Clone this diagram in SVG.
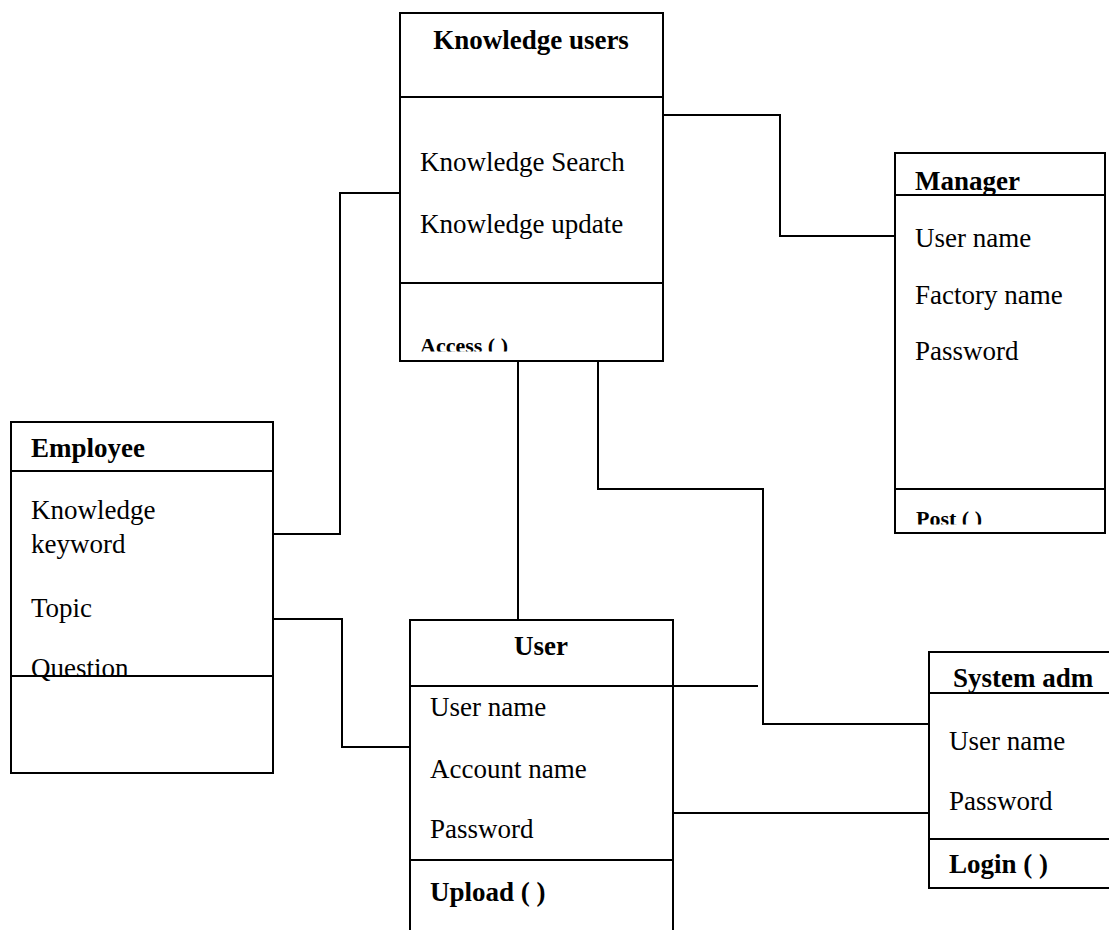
<svg xmlns="http://www.w3.org/2000/svg" width="1109" height="930" viewBox="0 0 1109 930">
  <style>
    .box { fill: #fff; stroke: #000; stroke-width: 2; }
    .ln { fill: none; stroke: #000; stroke-width: 2; }
    .t { font-family: "Liberation Serif", "Times New Roman", serif; font-size: 27px; fill: #000; }
    .b { font-weight: bold; }
    .op { font-family: "Liberation Serif", "Times New Roman", serif; font-size: 22px; font-weight: bold; fill: #000; }
    .mid { text-anchor: middle; }
  </style>
  <defs>
    <clipPath id="clipAccess"><rect x="400" y="300" width="263" height="51.5"/></clipPath>
    <clipPath id="clipPost"><rect x="895" y="490" width="210" height="34.5"/></clipPath>
  </defs>
  <rect width="1109" height="930" fill="#fff"/>

  <!-- connectors -->
  <g id="connectors">
    <polyline class="ln" points="400,193 340,193 340,534 273,534"/>
    <polyline class="ln" points="663,115 780,115 780,236 895,236"/>
    <line class="ln" x1="518" y1="361" x2="518" y2="620"/>
    <polyline class="ln" points="598,361 598,489 763,489 763,724 929,724"/>
    <polyline class="ln" points="273,619 342,619 342,747 410,747"/>
    <line class="ln" x1="673" y1="813" x2="929" y2="813"/>
  </g>

  <!-- Knowledge users -->
  <g id="knowledge-users">
    <rect class="box" x="400" y="13" width="263" height="348"/>
    <line class="ln" x1="400" y1="97" x2="663" y2="97"/>
    <line class="ln" x1="400" y1="283" x2="663" y2="283"/>
    <text class="t b mid" x="531" y="49">Knowledge users</text>
    <text class="t" x="420" y="171">Knowledge Search</text>
    <text class="t" x="420" y="233">Knowledge update</text>
    <text class="op" x="420" y="353" clip-path="url(#clipAccess)">Access ( )</text>
  </g>

  <!-- Manager -->
  <g id="manager">
    <rect class="box" x="895" y="153" width="210" height="380"/>
    <line class="ln" x1="895" y1="195" x2="1105" y2="195"/>
    <line class="ln" x1="895" y1="489" x2="1105" y2="489"/>
    <text class="t b" x="915" y="190">Manager</text>
    <text class="t" x="915" y="247">User name</text>
    <text class="t" x="915" y="304">Factory name</text>
    <text class="t" x="915" y="360">Password</text>
    <text class="op" x="916" y="526" clip-path="url(#clipPost)">Post ( )</text>
  </g>

  <!-- Employee -->
  <g id="employee">
    <rect class="box" x="11" y="422" width="262" height="351"/>
    <line class="ln" x1="11" y1="471" x2="273" y2="471"/>
    <text class="t b" x="31" y="457">Employee</text>
    <text class="t" x="31" y="519">Knowledge</text>
    <text class="t" x="31" y="553">keyword</text>
    <text class="t" x="31" y="617">Topic</text>
    <text class="t" x="31" y="677">Question</text>
    <line class="ln" x1="11" y1="676" x2="273" y2="676"/>
  </g>

  <!-- User -->
  <g id="user">
    <path class="box" d="M410,932 V620 H673 V932"/>
    <line class="ln" x1="410" y1="686" x2="758" y2="686"/>
    <line class="ln" x1="410" y1="860" x2="673" y2="860"/>
    <text class="t b mid" x="541" y="655">User</text>
    <text class="t" x="430" y="716">User name</text>
    <text class="t" x="430" y="778">Account name</text>
    <text class="t" x="430" y="838">Password</text>
    <text class="t b" x="430" y="901">Upload ( )</text>
  </g>

  <!-- System adm -->
  <g id="system-adm">
    <path class="box" d="M1112,652 H929 V888 H1112"/>
    <line class="ln" x1="929" y1="693" x2="1112" y2="693"/>
    <line class="ln" x1="929" y1="839" x2="1112" y2="839"/>
    <text class="t b" x="953" y="687">System adm</text>
    <text class="t" x="949" y="750">User name</text>
    <text class="t" x="949" y="810">Password</text>
    <text class="t b" x="949" y="873">Login ( )</text>
  </g>
</svg>
